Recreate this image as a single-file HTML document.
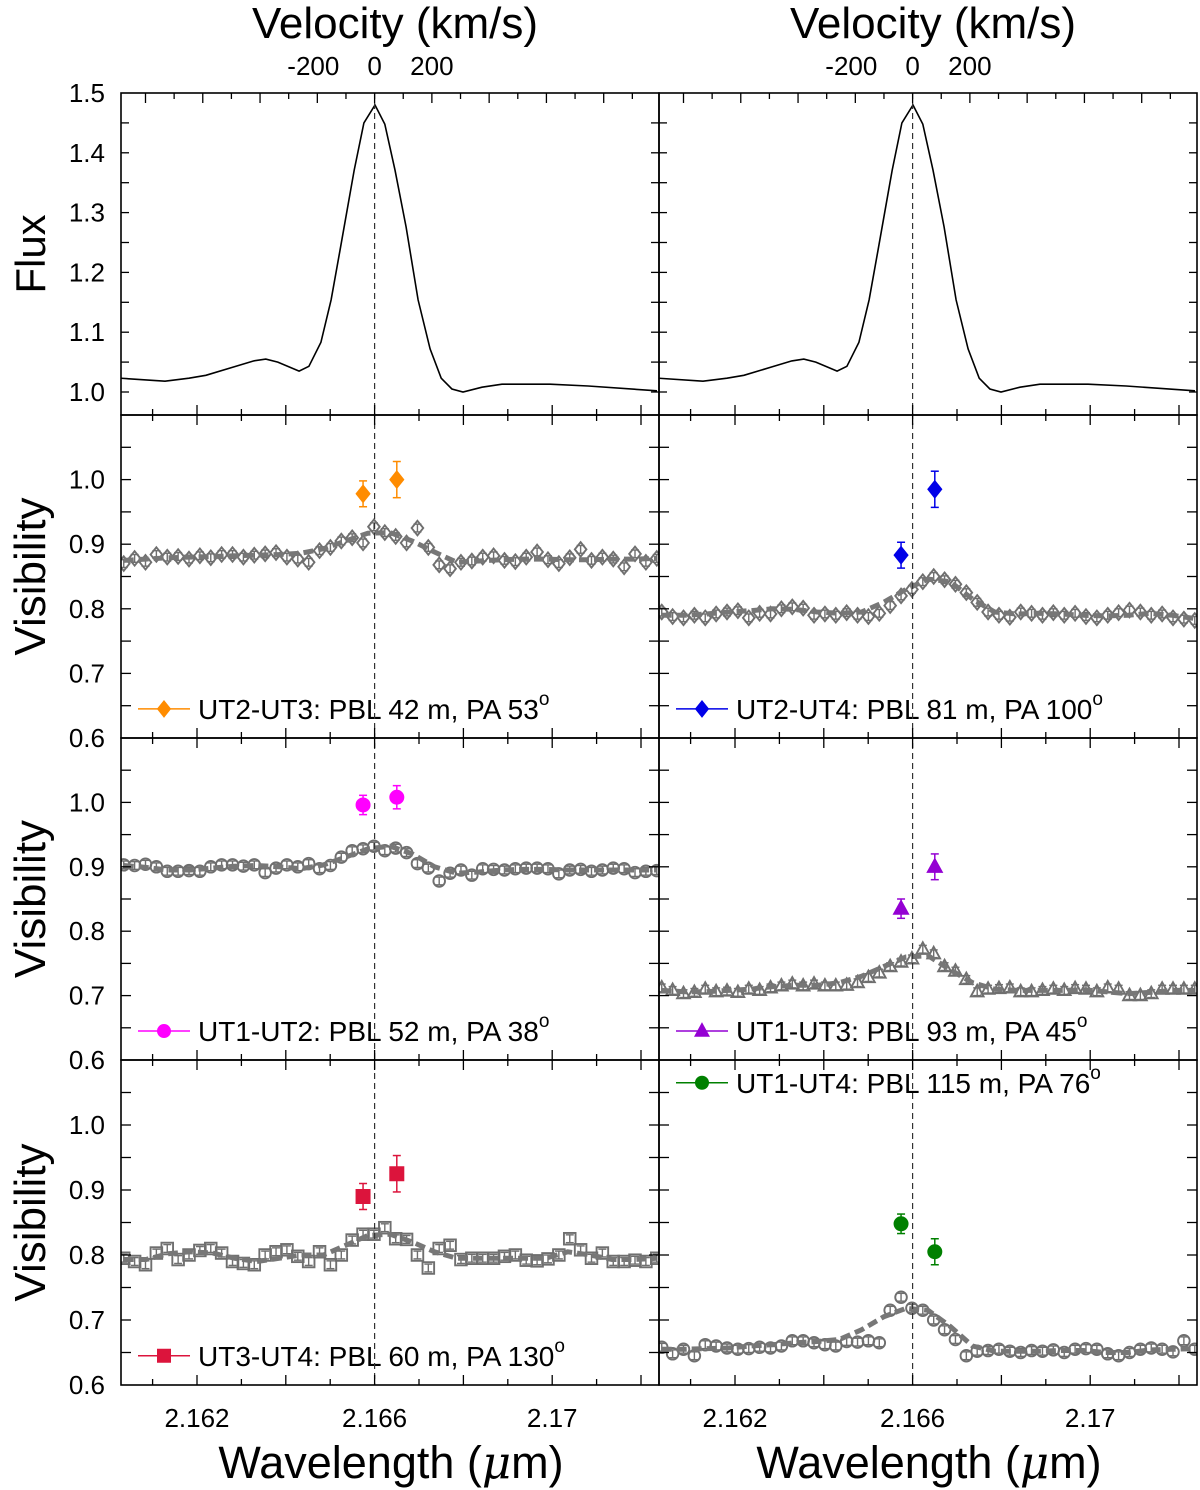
<!DOCTYPE html>
<html><head><meta charset="utf-8">
<style>
html,body{margin:0;padding:0;background:#fff;}
svg{display:block;font-family:"Liberation Sans",Arial,sans-serif;}
</style></head>
<body>
<svg id="chart" width="1200" height="1490" viewBox="0 0 1200 1490" xmlns="http://www.w3.org/2000/svg"></svg>
<script>
// ---------- data ----------
const fluxLam = [2.16027,2.16128,2.16182,2.16220,2.16283,2.16328,2.16355,2.16382,2.16430,2.16452,2.16479,2.16502,2.16522,2.16554,2.16576,2.16601,2.16623,2.16646,2.16671,2.16698,2.16725,2.16750,2.16774,2.16799,2.16842,2.16887,2.16995,2.17081,2.17236];
const fluxVal = [1.023,1.018,1.023,1.028,1.042,1.052,1.055,1.050,1.035,1.043,1.083,1.154,1.237,1.371,1.450,1.480,1.448,1.371,1.276,1.154,1.072,1.023,1.005,1.000,1.008,1.013,1.013,1.010,1.002];
const visLamStart = 2.16035, visLamStep = 0.000245;
const modelLamStart = 2.16035, modelLamStep = 0.0005;
const visErr = 0.006;
const v1 = [0.870,0.878,0.872,0.884,0.880,0.881,0.877,0.882,0.879,0.884,0.884,0.880,0.883,0.885,0.887,0.880,0.877,0.872,0.890,0.895,0.905,0.910,0.902,0.927,0.918,0.912,0.902,0.925,0.895,0.868,0.862,0.872,0.874,0.880,0.882,0.875,0.873,0.880,0.888,0.876,0.870,0.879,0.892,0.875,0.880,0.877,0.865,0.885,0.872,0.878];
const m1 = [0.875,0.877,0.879,0.880,0.881,0.882,0.883,0.884,0.886,0.893,0.905,0.917,0.918,0.905,0.888,0.872,0.874,0.876,0.877,0.877,0.876,0.876,0.877,0.877,0.878];
const v2 = [0.795,0.788,0.786,0.790,0.786,0.792,0.795,0.797,0.786,0.793,0.792,0.800,0.803,0.801,0.790,0.792,0.790,0.794,0.790,0.788,0.793,0.805,0.820,0.830,0.842,0.850,0.845,0.838,0.825,0.810,0.795,0.790,0.787,0.795,0.793,0.790,0.794,0.790,0.793,0.788,0.786,0.790,0.794,0.798,0.795,0.790,0.792,0.786,0.784,0.782];
const m2 = [0.790,0.790,0.792,0.795,0.797,0.800,0.799,0.795,0.793,0.795,0.810,0.830,0.846,0.842,0.815,0.795,0.792,0.793,0.792,0.790,0.789,0.790,0.793,0.790,0.785];
const v3 = [0.903,0.902,0.904,0.900,0.893,0.893,0.894,0.893,0.900,0.903,0.903,0.901,0.903,0.891,0.898,0.903,0.900,0.905,0.897,0.902,0.915,0.925,0.928,0.932,0.925,0.929,0.922,0.905,0.898,0.878,0.890,0.895,0.887,0.897,0.896,0.895,0.897,0.898,0.898,0.897,0.889,0.895,0.896,0.893,0.895,0.898,0.897,0.891,0.893,0.894];
const m3 = [0.902,0.899,0.895,0.895,0.898,0.901,0.902,0.900,0.897,0.903,0.915,0.928,0.932,0.920,0.900,0.890,0.892,0.895,0.896,0.896,0.895,0.895,0.895,0.895,0.895];
const v4 = [0.712,0.708,0.703,0.705,0.710,0.706,0.707,0.705,0.710,0.708,0.712,0.715,0.718,0.715,0.718,0.715,0.715,0.716,0.720,0.728,0.735,0.745,0.752,0.757,0.772,0.765,0.745,0.738,0.725,0.706,0.710,0.711,0.712,0.706,0.706,0.708,0.710,0.708,0.711,0.710,0.706,0.712,0.710,0.700,0.700,0.703,0.710,0.710,0.710,0.710];
const m4 = [0.708,0.706,0.706,0.708,0.710,0.714,0.716,0.716,0.720,0.730,0.745,0.760,0.762,0.740,0.720,0.710,0.708,0.708,0.708,0.709,0.706,0.703,0.705,0.708,0.708];
const v5 = [0.795,0.790,0.785,0.803,0.810,0.793,0.800,0.807,0.810,0.803,0.790,0.787,0.785,0.800,0.805,0.808,0.798,0.790,0.805,0.785,0.800,0.823,0.832,0.832,0.842,0.825,0.824,0.800,0.780,0.810,0.815,0.793,0.795,0.795,0.795,0.798,0.800,0.792,0.791,0.794,0.800,0.825,0.808,0.795,0.803,0.790,0.790,0.792,0.790,0.795];
const m5 = [0.793,0.793,0.802,0.805,0.803,0.795,0.790,0.795,0.800,0.800,0.815,0.830,0.832,0.820,0.805,0.795,0.795,0.795,0.795,0.795,0.805,0.800,0.793,0.793,0.795];
const v6 = [0.658,0.648,0.655,0.645,0.662,0.660,0.657,0.655,0.656,0.658,0.657,0.660,0.668,0.668,0.665,0.662,0.660,0.667,0.666,0.668,0.665,0.715,0.735,0.718,0.715,0.700,0.685,0.670,0.645,0.652,0.653,0.655,0.652,0.650,0.653,0.652,0.654,0.650,0.655,0.656,0.655,0.648,0.645,0.650,0.655,0.657,0.655,0.651,0.668,0.655];
const m6 = [0.655,0.655,0.656,0.657,0.660,0.662,0.665,0.667,0.670,0.685,0.705,0.718,0.715,0.690,0.660,0.652,0.652,0.652,0.653,0.653,0.650,0.650,0.654,0.655,0.656];
const colLam = [2.16574,2.16650];
const c1 = [0.978,1.000], e1 = [0.020,0.028];
const c2 = [0.883,0.985], e2 = [0.020,0.028];
const c3 = [0.996,1.008], e3 = [0.015,0.018];
const c4 = [0.835,0.900], e4 = [0.015,0.020];
const c5 = [0.890,0.925], e5 = [0.020,0.028];
const c6 = [0.848,0.805], e6 = [0.015,0.020];
const lineCenter = 2.1660;
const xTickLabels = ["2.162","2.166","2.17"];
const xTickVals = [2.162,2.166,2.170];
const velLabels = [-200,0,200];
const fluxTicks = [1.0,1.1,1.2,1.3,1.4,1.5];
const visTicks = [0.6,0.7,0.8,0.9,1.0];

// ---------- layout ----------
const NS = "http://www.w3.org/2000/svg";
const svg = document.getElementById('chart');
const colX = [121, 659], colW = 538;
const rowY = [93, 415, 738, 1060, 1385];
const pxPerMicron = 44400;
const kmsToMicron = 0.00000645;
function xs(col, lam){ return colX[col] + 76 + (lam - 2.162) * pxPerMicron; }
function yFlux(f){ return 392 - (f - 1.0) * 598; }
function yVis(row, v){ const top = rowY[row], bot = rowY[row+1]; return bot - (v - 0.6) / 0.5 * (bot - top); }
function el(tag, attrs, parent){ const e = document.createElementNS(NS, tag); for (const k in attrs) e.setAttribute(k, attrs[k]); (parent||svg).appendChild(e); return e; }
function txt(s, attrs, parent){ const t = el('text', attrs, parent); t.textContent = s; return t; }

const GRAY = '#6f6f6f';
const panels = [
  {row:1,col:0,v:v1,m:m1,c:c1,e:e1,color:'#ff8c00',shape:'diamond',label:'UT2-UT3: PBL 42 m, PA 53',legY:0.645,name:'ut2-ut3'},
  {row:1,col:1,v:v2,m:m2,c:c2,e:e2,color:'#0000e8',shape:'diamond',label:'UT2-UT4: PBL 81 m, PA 100',legY:0.645,name:'ut2-ut4'},
  {row:2,col:0,v:v3,m:m3,c:c3,e:e3,color:'#ff00ff',shape:'circle',label:'UT1-UT2: PBL 52 m, PA 38',legY:0.645,name:'ut1-ut2'},
  {row:2,col:1,v:v4,m:m4,c:c4,e:e4,color:'#9400d3',shape:'triangle',label:'UT1-UT3: PBL 93 m, PA 45',legY:0.645,name:'ut1-ut3'},
  {row:3,col:0,v:v5,m:m5,c:c5,e:e5,color:'#dc143c',shape:'square',label:'UT3-UT4: PBL 60 m, PA 130',legY:0.645,name:'ut3-ut4'},
  {row:3,col:1,v:v6,m:m6,c:c6,e:e6,color:'#008000',shape:'circle',label:'UT1-UT4: PBL 115 m, PA 76',legY:1.065,name:'ut1-ut4'}
];

function marker(shape, x, y, r, fill, stroke, sw, parent){
  let m;
  if (shape==='diamond') m = el('polygon',{points:`${x},${y-r*1.25} ${x+r},${y} ${x},${y+r*1.25} ${x-r},${y}`},parent);
  else if (shape==='circle') m = el('circle',{cx:x,cy:y,r:r},parent);
  else if (shape==='triangle') m = el('polygon',{points:`${x},${y-r*1.2} ${x+r*1.1},${y+r*0.8} ${x-r*1.1},${y+r*0.8}`},parent);
  else m = el('rect',{x:x-r,y:y-r,width:2*r,height:2*r},parent);
  m.setAttribute('fill', fill); m.setAttribute('stroke', stroke); m.setAttribute('stroke-width', sw);
  return m;
}
function errbar(x, y1, y2, color, sw, parent){
  el('line',{x1:x,y1:y1,x2:x,y2:y2,stroke:color,'stroke-width':sw},parent);
  el('line',{x1:x-4,y1:y1,x2:x+4,y2:y1,stroke:color,'stroke-width':sw},parent);
  el('line',{x1:x-4,y1:y2,x2:x+4,y2:y2,stroke:color,'stroke-width':sw},parent);
}

const defs = el('defs',{});
for (let r=0;r<4;r++) for (let c=0;c<2;c++){
  const cp = el('clipPath',{id:`clip${r}${c}`},defs);
  el('rect',{x:colX[c],y:rowY[r],width:colW,height:rowY[r+1]-rowY[r]},cp);
}

for (let c=0;c<2;c++){
  const g = el('g',{'clip-path':`url(#clip0${c})`});
  
  
  const pts = fluxLam.map((l,i)=>`${xs(c,l).toFixed(1)},${yFlux(fluxVal[i]).toFixed(1)}`).join(' ');
  const pl = el('polyline',{points:pts,fill:'none',stroke:'#000','stroke-width':1.6},g);
  
  
}

panels.forEach(p=>{
  const g = el('g',{'clip-path':`url(#clip${p.row}${p.col})`});
  
  
  p.v.forEach((v,i)=>{
    const x = xs(p.col, visLamStart + i*visLamStep);
    errbar(x, yVis(p.row, v+visErr), yVis(p.row, v-visErr), GRAY, 1.4, g);
  });
  p.v.forEach((v,i)=>{
    const x = xs(p.col, visLamStart + i*visLamStep);
    const m = marker(p.shape, x, yVis(p.row, v), 5.8, 'none', GRAY, 1.9, g);
    
    
  });
  const mp = p.m.map((v,i)=>`${xs(p.col, modelLamStart+i*modelLamStep).toFixed(1)},${yVis(p.row,v).toFixed(1)}`).join(' ');
  const ml = el('polyline',{points:mp,fill:'none',stroke:'#777','stroke-width':5,'stroke-dasharray':'10 5'},g);
  
  
  p.c.forEach((v,i)=>{
    const x = xs(p.col, colLam[i]);
    errbar(x, yVis(p.row, v+p.e[i]), yVis(p.row, v-p.e[i]), p.color, 1.5, g);
    const m = marker(p.shape, x, yVis(p.row, v), 7, p.color, p.color, 1, g);
    
    
  });
  const lg = el('g',{});
  
  
  const ly = yVis(p.row, p.legY);
  const lx = colX[p.col] + 17;
  el('line',{x1:lx,y1:ly,x2:lx+52,y2:ly,stroke:p.color,'stroke-width':1.5},lg);
  marker(p.shape, lx+26, ly, 6.5, p.color, p.color, 1, lg);
  const t = txt('', {x:lx+60, y:ly+10, 'font-size':28, fill:'#000'}, lg);
  const t1 = document.createElementNS(NS,'tspan'); t1.textContent = p.label; t.appendChild(t1);
  const t2 = document.createElementNS(NS,'tspan'); t2.textContent = 'o'; t2.setAttribute('dy','-14'); t2.setAttribute('font-size','19'); t.appendChild(t2);
});

for (let c=0;c<2;c++){
  const d = el('line',{x1:xs(c,lineCenter),y1:rowY[0],x2:xs(c,lineCenter),y2:rowY[4],stroke:'#333','stroke-width':1.2,'stroke-dasharray':'6 4'});
  
  
}

const axes = el('g',{});


for (let r=0;r<4;r++) for (let c=0;c<2;c++){
  const x0 = colX[c], x1 = colX[c]+colW, y0 = rowY[r], y1 = rowY[r+1];
  el('rect',{x:x0,y:y0,width:colW,height:y1-y0,fill:'none',stroke:'#000','stroke-width':1.6},axes);
  for (let k=0;k<=13;k++){
    const lam = 2.160 + k*0.001;
    const x = xs(c, lam);
    if (x<=x0+1 || x>=x1-1) continue;
    const len = (k%2===0)?10:6;
    el('line',{x1:x,y1:y1,x2:x,y2:y1-len,stroke:'#000','stroke-width':1.3},axes);
    if (r>0) el('line',{x1:x,y1:y0,x2:x,y2:y0+len,stroke:'#000','stroke-width':1.3},axes);
  }
  if (r===0){
    for (let v=-900; v<=1000; v+=100){
      const x = xs(c, lineCenter + v*kmsToMicron);
      if (x<=x0+1 || x>=x1-1) continue;
      const len = (v%200===0)?10:6;
      el('line',{x1:x,y1:y0,x2:x,y2:y0+len,stroke:'#000','stroke-width':1.3},axes);
    }
    for (let f=0.95; f<1.5; f+=0.05){
      const y = yFlux(f);
      if (y>=y1-1 || y<=y0+1) continue;
      el('line',{x1:x0,y1:y,x2:x0+8,y2:y,stroke:'#000','stroke-width':1.3},axes);
      el('line',{x1:x1,y1:y,x2:x1-8,y2:y,stroke:'#000','stroke-width':1.3},axes);
    }
  } else {
    for (let k=0;k<10;k++){
      const v = 0.6 + k*0.05;
      const y = yVis(r, v);
      if (y>=y1-1 || y<=y0+1) continue;
      el('line',{x1:x0,y1:y,x2:x0+10,y2:y,stroke:'#000','stroke-width':1.3},axes);
      el('line',{x1:x1,y1:y,x2:x1-10,y2:y,stroke:'#000','stroke-width':1.3},axes);
    }
  }
}

fluxTicks.forEach(f=>{
  const t = txt(f.toFixed(1),{x:105,y:yFlux(f)+9,'font-size':26,'text-anchor':'end'});
  
  
});
for (let r=1;r<4;r++) visTicks.forEach(v=>{
  const t = txt(v.toFixed(1),{x:105,y:yVis(r,v)+9,'font-size':26,'text-anchor':'end'});
  
  
});
for (let c=0;c<2;c++){
  xTickVals.forEach((l,i)=>{
    const t = txt(xTickLabels[i],{x:xs(c,l),y:1427,'font-size':26,'text-anchor':'middle'});
    
    
  });
  velLabels.forEach(v=>{
    const t = txt(String(v),{x:xs(c,lineCenter+v*kmsToMicron)-(v<0?4:0),y:75,'font-size':26,'text-anchor':'middle'});
    
    
  });
  const vt = txt('Velocity (km/s)',{x:colX[c]+274,y:38,'font-size':44,'text-anchor':'middle'});
  
  
  const wt = txt('',{x:colX[c]+270,y:1478,'font-size':45,'text-anchor':'middle'});
  
  
  const a = document.createElementNS(NS,'tspan'); a.textContent='Wavelength ('; wt.appendChild(a);
  const b = document.createElementNS(NS,'tspan'); b.textContent='\u03bc'; b.setAttribute('font-style','italic'); b.setAttribute('font-family','"DejaVu Serif",serif'); wt.appendChild(b);
  const d = document.createElementNS(NS,'tspan'); d.textContent='m)'; wt.appendChild(d);
}
const ft = txt('Flux',{x:0,y:0,'font-size':42,'text-anchor':'middle',transform:'translate(45,254) rotate(-90)'});


for (let r=1;r<4;r++){
  const cy = (rowY[r]+rowY[r+1])/2;
  const t = txt('Visibility',{x:0,y:0,'font-size':44,'text-anchor':'middle',transform:`translate(45,${cy}) rotate(-90)`});
  
  
}
</script>
</body></html>
